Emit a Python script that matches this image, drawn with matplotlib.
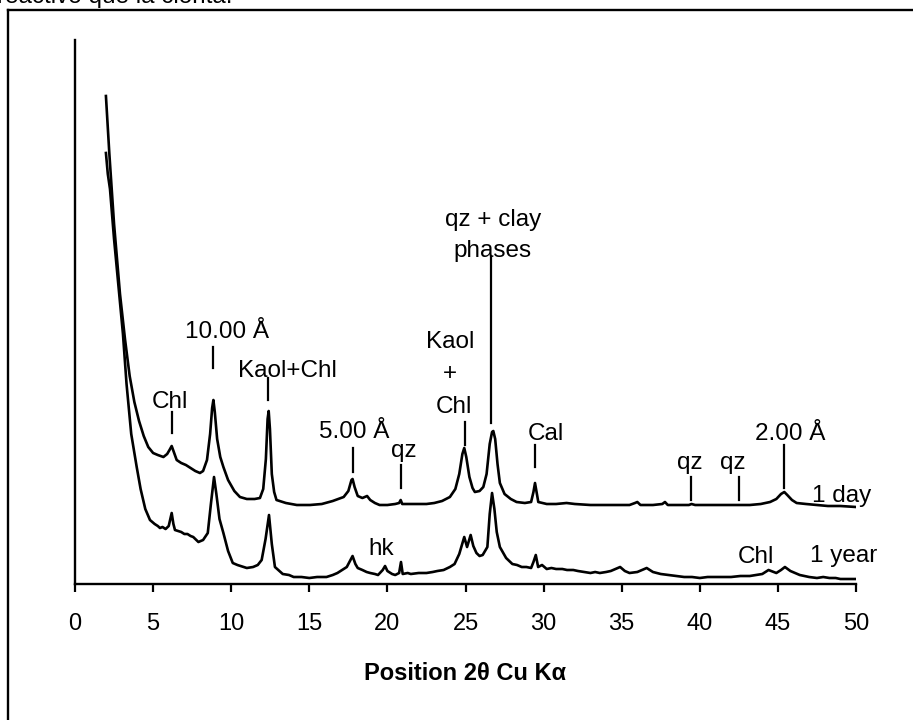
import matplotlib
matplotlib.use('Agg')
import matplotlib.pyplot as plt
from matplotlib.lines import Line2D

plt.rcParams['font.family'] = ['Liberation Sans', 'DejaVu Sans']

# 1 day pattern (2theta, intensity in arbitrary units)
tt_day = [1.98, 2.2, 2.5, 2.88, 3.2, 3.5, 3.8, 4.1, 4.4, 4.69, 5.0, 5.3, 5.66, 5.9, 6.05,
          6.19, 6.35, 6.51, 6.8, 7.1, 7.4, 7.7, 8.0, 8.2, 8.45, 8.65, 8.78, 8.86, 8.95,
          9.1, 9.3, 9.5, 9.8, 10.2, 10.56, 11.0, 11.5, 11.84, 12.05, 12.22, 12.33, 12.4,
          12.48, 12.6, 12.75, 12.9, 13.5, 14.2, 15.04, 15.8, 16.5, 17.2, 17.5, 17.7, 17.77,
          17.9, 18.1, 18.4, 18.7, 18.9, 19.2, 19.5, 20.0, 20.5, 20.75, 20.85, 20.95, 21.5,
          22.0, 22.5, 23.0, 23.5, 24.0, 24.35, 24.6, 24.8, 24.92, 25.05, 25.25, 25.45, 25.6,
          25.9, 26.14, 26.35, 26.55, 26.7, 26.78, 26.9, 27.05, 27.2, 27.5, 27.9, 28.27, 28.8,
          29.2, 29.35, 29.45, 29.55, 29.66, 30.2, 30.8, 31.47, 32.0, 33.0, 34.0, 34.7, 35.5,
          35.85, 36.0, 36.2, 37.0, 37.6, 37.77, 37.95, 38.7, 39.3, 39.47, 39.7, 40.5, 41.5,
          42.5, 43.2, 43.9, 44.5, 44.9, 45.2, 45.41, 45.6, 45.9, 46.2, 46.8, 47.5, 48.2,
          49.0, 50.0]
int_day = [488, 430, 360, 290, 245, 208, 182, 163, 148, 137, 131, 129, 127, 130, 134,
           138, 131, 124, 121, 119, 116, 113, 111, 113, 124, 150, 176, 184, 172,
           145, 127, 117, 104, 93, 87, 85, 85, 86, 95, 125, 165, 173,
           155, 110, 92, 84, 81, 79, 79, 80, 83, 87, 93, 104, 105,
           97, 88, 86, 88, 84, 81, 79, 79, 80, 81, 84, 80, 80,
           80, 80, 81, 83, 87, 95, 110, 130, 136, 127, 107, 96, 92,
           93, 97, 110, 140, 152, 153, 145, 120, 101, 90, 85, 82, 81,
           82, 92, 101, 92, 82, 80, 80, 81, 80, 79, 79, 79, 79,
           81, 82, 79, 79, 80, 82, 79, 79, 79, 80, 79, 79, 79,
           79, 79, 80, 82, 85, 90, 92, 89, 84, 81, 80, 79, 78,
           78, 77]

# 1 year pattern
tt_year = [1.98, 2.1, 2.24, 2.5, 2.8, 3.07, 3.3, 3.6, 3.95, 4.2, 4.5, 4.8, 5.1, 5.3, 5.44,
           5.6, 5.8, 6.0, 6.19, 6.3, 6.4, 6.6, 6.8, 7.0, 7.2, 7.4, 7.57, 7.9, 8.2, 8.5, 8.7,
           8.9, 9.05, 9.25, 9.5, 9.8, 10.1, 10.4, 10.6, 11.0, 11.4, 11.7, 11.95, 12.2, 12.42,
           12.6, 12.8, 13.3, 13.7, 14.0, 14.5, 15.0, 15.5, 16.1, 16.5, 16.8, 17.1, 17.4,
           17.77, 17.95, 18.1, 18.4, 18.67, 18.9, 19.2, 19.4, 19.7, 19.85, 20.0, 20.3, 20.5,
           20.75, 20.87, 20.98, 21.3, 21.5, 22.0, 22.5, 22.9, 23.2, 23.6, 24.0, 24.3, 24.6,
           24.92, 25.1, 25.33, 25.5, 25.7, 25.9, 26.1, 26.4, 26.55, 26.7, 26.85, 27.0, 27.2,
           27.6, 28.0, 28.3, 28.6, 28.9, 29.2, 29.35, 29.5, 29.65, 29.9, 30.2, 30.5, 30.8,
           31.2, 31.5, 31.9, 32.2, 32.6, 33.0, 33.3, 33.6, 34.0, 34.3, 34.6, 34.9, 35.2,
           35.5, 36.0, 36.3, 36.6, 37.0, 37.5, 38.0, 38.5, 39.0, 39.5, 40.0, 40.5, 41.0,
           41.5, 42.0, 42.6, 43.2, 43.6, 44.0, 44.4, 44.9, 45.2, 45.45, 45.8, 46.1, 46.4,
           47.0, 47.5, 47.9, 48.3, 48.7, 49.0, 49.5, 50.0]
int_year = [431, 410, 395, 345, 295, 250, 200, 150, 117, 95, 75, 64, 60, 58, 56,
            57, 55, 58, 71, 60, 54, 53, 52, 50, 50, 48, 47, 42, 44, 51, 80,
            107, 90, 65, 51, 33, 21, 19, 18, 16, 17, 19, 24, 45, 69,
            40, 17, 10, 9, 7, 7, 6, 7, 7, 9, 11, 14, 17,
            28, 20, 16, 14, 12, 11, 10, 9, 14, 18, 13, 10, 9,
            11, 22, 10, 11, 10, 11, 11, 12, 13, 14, 17, 20, 30,
            47, 37, 49, 38, 31, 28, 29, 37, 70, 91, 75, 52, 37,
            26, 20, 19, 17, 17, 16, 22, 29, 17, 19, 15, 16, 15,
            15, 14, 14, 13, 12, 11, 12, 11, 12, 13, 15, 17, 13,
            11, 12, 14, 16, 12, 10, 9, 8, 7, 7, 6, 7, 7,
            7, 7, 8, 8, 9, 10, 14, 11, 14, 17, 13, 11, 9,
            7, 6, 7, 6, 6, 5, 5, 5]

# peak labels
label_text = ['Chl', '10.00 Å', 'Kaol+Chl', '5.00 Å', 'qz', 'Kaol', '+', 'Chl',
              'qz + clay', 'phases', 'Cal', 'qz', 'qz', '2.00 Å', 'hk', 'Chl']
label_x = [6.08, 9.76, 13.6, 17.88, 21.04, 24.03, 24.0, 24.27,
           26.8, 26.7, 30.15, 39.37, 42.13, 45.77, 19.63, 43.6]
label_y = [175.7, 245.7, 206.7, 145.7, 127.3, 235.7, 204, 171.3,
           358, 327, 144, 114.7, 114.7, 144, 29, 21.3]

# marker lines above peaks
mark_x = [6.19, 8.86, 12.38, 17.78, 20.85, 24.97, 26.61, 29.45, 39.42, 42.53, 45.41]
mark_y0 = [150.7, 215.7, 184, 112.3, 95.7, 139, 161, 117, 84, 84, 95.7]
mark_y1 = [172.3, 237.3, 205.7, 135.7, 119, 162.3, 327, 139, 107.3, 107.3, 139]

fig = plt.figure(figsize=(9.13, 7.2), dpi=100)
ax = fig.add_axes([75 / 913, 136 / 720, 781 / 913, 544 / 720])

ax.plot(tt_day, int_day, color='black', lw=1.9)
ax.plot(tt_year, int_year, color='black', lw=1.9)

for x, y0, y1 in zip(mark_x, mark_y0, mark_y1):
    ax.plot([x, x], [y0, y1], color='black', lw=1.6)

for t, x, y in zip(label_text, label_x, label_y):
    ax.text(x, y, t, ha='center', va='baseline', fontsize=17.5)

ax.text(47.16, 82.3, '1 day', ha='left', va='baseline', fontsize=17.5)
ax.text(47.05, 22.3, '1 year', ha='left', va='baseline', fontsize=17.5)

ax.set_xlim(0, 50)
ax.set_ylim(0, 544)
ax.set_xticks(range(0, 51, 5))
ax.set_yticks([])
ax.spines['top'].set_visible(False)
ax.spines['right'].set_visible(False)
ax.spines['left'].set_linewidth(1.7)
ax.spines['bottom'].set_linewidth(1.7)
ax.tick_params(axis='x', direction='out', length=6, width=1.6, labelsize=17, pad=15)
ax.set_xlabel('Position 2θ Cu Kα', fontsize=17, fontweight='bold', labelpad=19)

# frame around the figure (only top and left edges visible)
top = 1 - 9.5 / 720
left = 7.5 / 913
fig.add_artist(Line2D([left, 1.01], [top, top], color='black', lw=1.7))
fig.add_artist(Line2D([left, left], [-0.01, top], color='black', lw=1.7))

# clipped text line from the page above
fig.text(-0.003, 1 - 2.5 / 720, 'reactivo que la clorita.', fontsize=17.5,
         ha='left', va='baseline')

fig.savefig('out.png', dpi=100)
